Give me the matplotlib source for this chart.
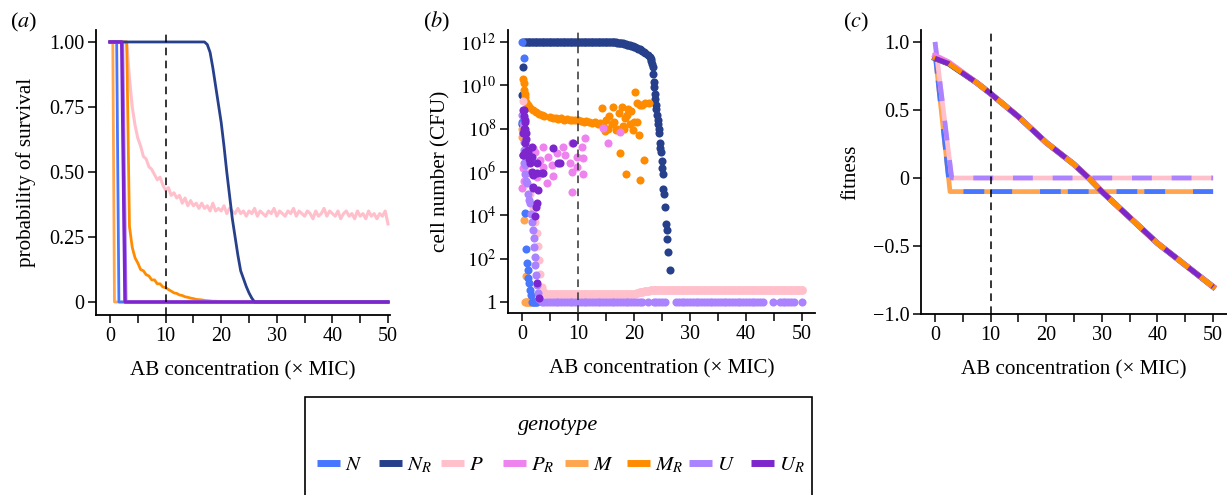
import numpy as np
import matplotlib
matplotlib.use("Agg")
import matplotlib.pyplot as plt
from matplotlib.lines import Line2D
from matplotlib.patches import Rectangle

plt.rcParams["font.family"] = ["Liberation Serif", "DejaVu Serif"]
plt.rcParams["mathtext.fontset"] = "stix"

####################### Génotypes et couleurs #########################

genotypes = ["N", "N_R", "P", "P_R", "M", "M_R", "U", "U_R"]
legend_labels = [r"$N$", r"$N_R$", r"$P$", r"$P_R$", r"$M$", r"$M_R$", r"$U$", r"$U_R$"]
colors = {"N": "#4876FF", "N_R": "#27408B", "P": "#FFC0CB", "P_R": "#EE82EE",
          "M": "#FFA54F", "M_R": "#FF8C00", "U": "#AB82FF", "U_R": "#7D26CD"}

####################### (a) probabilité de survie #########################

# grille de concentration (pas 0.5) pour les courbes bruitées
conc_a = np.arange(0, 50.01, 0.5)

surv_P = [1, 1, 1, 1, 1, 1, 1.0, 0.86, 0.75, 0.68,
          0.63, 0.60, 0.56, 0.55, 0.52, 0.51, 0.49, 0.47, 0.48, 0.45,
          0.43, 0.44, 0.41, 0.42, 0.40, 0.41, 0.38, 0.40, 0.37, 0.39,
          0.37, 0.38, 0.36, 0.38, 0.36, 0.37, 0.35, 0.38, 0.35, 0.36,
          0.35, 0.37, 0.34, 0.36, 0.35, 0.34, 0.36, 0.34, 0.35, 0.33,
          0.35, 0.34, 0.36, 0.33, 0.35, 0.34, 0.33, 0.35, 0.34, 0.36,
          0.33, 0.35, 0.34, 0.33, 0.35, 0.34, 0.36, 0.33, 0.35, 0.34,
          0.33, 0.35, 0.34, 0.32, 0.35, 0.33, 0.34, 0.36, 0.33, 0.35,
          0.34, 0.33, 0.35, 0.32, 0.34, 0.35, 0.33, 0.34, 0.32, 0.35,
          0.33, 0.34, 0.32, 0.35, 0.33, 0.34, 0.32, 0.34, 0.33, 0.35,
          0.30]

surv_MR = [1, 1, 1, 1, 1, 1, 1.0, 0.29, 0.21, 0.17,
           0.15, 0.125, 0.12, 0.105, 0.10, 0.085, 0.085, 0.07, 0.07, 0.058,
           0.055, 0.048, 0.042, 0.035, 0.033, 0.027, 0.025, 0.02, 0.018, 0.015,
           0.013, 0.01, 0.009, 0.008, 0.006, 0.005, 0.004, 0.003, 0.003, 0.002,
           0.002, 0.001, 0.001, 0.001, 0.0, 0.0, 0.0, 0.0, 0.0, 0.0,
           0.0]

# courbes nettes : points clés
surv_N_x = [0, 1.2, 1.6, 50]
surv_N_y = [1, 1, 0, 0]
surv_NR_x = [0, 16.5, 17, 17.5, 18, 18.5, 19, 19.5, 20, 20.5, 21, 21.5, 22,
             22.5, 23, 23.5, 24, 24.5, 25, 25.5, 26, 50]
surv_NR_y = [1, 1, 1.0, 0.99, 0.96, 0.9, 0.83, 0.76, 0.69, 0.6, 0.5, 0.41, 0.32,
             0.25, 0.18, 0.12, 0.09, 0.06, 0.035, 0.015, 0, 0]
surv_PR_x = [0, 2.2, 2.7, 50]
surv_PR_y = [1, 1, 0, 0]
surv_M_x = [0, 0.5, 0.8, 50]
surv_M_y = [1, 1, 0, 0]
surv_U_x = [0, 2.3, 2.9, 50]
surv_U_y = [1, 1, 0, 0]
surv_UR_x = [0, 2.1, 2.7, 50]
surv_UR_y = [1, 1, 0, 0]

####################### (b) nombre de cellules (log10 CFU) #########################

cells_NR_plateau_x = np.arange(0.25, 22.01, 0.25)
cells_NR_plateau = [12.0] * 64 + [11.99, 11.98, 11.98, 11.97, 11.96, 11.95, 11.94, 11.93,
                                  11.91, 11.9, 11.88, 11.87, 11.85, 11.83, 11.81, 11.78,
                                  11.75, 11.72, 11.69, 11.66, 11.63, 11.6, 11.55, 11.5]
cells_NR_x = [0.0, 0.0, 0.2, 22.5, 22.8, 23.0, 23.1, 23.2, 23.3, 23.4, 23.5, 23.6,
              23.7, 23.8, 23.9, 24.0, 24.1, 24.2, 24.3, 24.4, 24.5, 24.6, 24.7,
              24.8, 24.9, 25.0, 25.1, 25.2, 25.3, 25.5, 25.7, 25.8, 25.85, 26.1, 26.4]
cells_NR = [8.2, 9.55, 10.86, 11.4, 11.3, 11.2, 11.1, 11.0, 10.86, 10.5, 10.15, 9.9,
            9.6, 9.35, 9.1, 8.9, 8.65, 8.4, 8.2, 8.0, 7.8, 7.35, 7.1,
            6.9, 6.5, 6.2, 5.9, 5.2, 5.0, 4.4, 3.6, 3.3, 2.9, 2.3, 1.5]

cells_MR_x = [0.25, 0.3, 0.4, 0.5, 0.6, 0.8, 1.0, 1.25, 1.5, 2.0, 2.5, 3.0, 3.5,
              4.0, 5.0, 5.5, 6.0, 6.5, 7.0, 7.5, 8.0, 8.5, 9.0, 9.5, 10.0, 10.5,
              11.0, 11.5, 12.0, 12.5, 13.0, 13.5, 14.0, 14.2, 14.5, 14.8, 15.0,
              15.3, 15.5, 16.0, 16.3, 16.5, 16.8, 17.0, 17.3, 17.5, 17.8, 18.0,
              18.2, 18.3, 18.6, 18.7, 19.0, 19.3, 19.5, 19.8, 20.0, 20.2, 20.5,
              20.5, 20.8, 21.1, 21.1, 21.5, 21.7, 22.0, 22.6]
cells_MR = [10.3, 10.1, 9.8, 9.6, 9.45, 9.25, 9.1, 9.0, 8.93, 8.85, 8.75, 8.68, 8.63,
            8.6, 8.55, 8.5, 8.48, 8.45, 8.5, 8.42, 8.45, 8.4, 8.42, 8.38, 8.4, 8.35,
            8.32, 8.35, 8.3, 8.25, 8.3, 8.2, 8.25, 8.94, 8.1, 7.9, 8.4,
            8.0, 8.6, 8.2, 9.0, 8.3, 7.95, 8.0, 8.7, 6.86, 9.0, 8.1,
            8.0, 8.5, 5.91, 8.63, 8.9, 8.2, 8.8, 7.95, 8.3, 9.7, 9.2,
            8.3, 7.71, 9.09, 5.63, 9.1, 6.55, 9.2, 9.17]

cells_M_x = [0.0, 0.0, 0.4, 0.66, 0.6, 0.75, 0.9, 1.0, 1.2, 1.35, 1.5]
cells_M = [8.0, 7.6, 3.78, 1.2, 0.0, 0.0, 0.0, 0.0, 0.0, 0.0, 0.0]

cells_N_x = [0.0, 0.0, 0.4, 0.5, 0.7, 0.85, 1.0, 1.1, 1.3, 1.4, 1.55,
             1.7, 1.9, 2.1, 2.3, 2.5, 2.7]
cells_N = [12.0, 8.3, 11.27, 4.1, 2.45, 1.8, 1.48, 1.09, 0.86, 0.55, 0.32,
           0.0, 0.0, 0.0, 0.0, 0.0, 0.0]

cells_P_x = [0.1, 0.5, 1.0, 1.5, 2.0, 2.3, 2.6, 2.8, 3.1, 3.3, 3.5, 3.7]
cells_P = [9.27, 7.0, 6.0, 5.0, 4.3, 3.7, 3.17, 2.6, 1.94, 1.3, 0.7, 0.5]
cells_P_band_x = np.arange(4, 50.01, 0.5)
cells_P_band = [0.40, 0.39, 0.38, 0.38, 0.38, 0.38, 0.38, 0.38, 0.38, 0.38,
                0.38, 0.38, 0.38, 0.38, 0.38, 0.38, 0.38, 0.38, 0.38, 0.38,
                0.38, 0.38, 0.38, 0.38, 0.38, 0.38, 0.38, 0.38, 0.38, 0.38,
                0.38, 0.38, 0.39, 0.41, 0.44, 0.47, 0.50, 0.52, 0.54, 0.55,
                0.55, 0.55, 0.55, 0.55, 0.55, 0.55, 0.55, 0.55, 0.55, 0.55,
                0.55, 0.55, 0.55, 0.55, 0.55, 0.55, 0.55, 0.55, 0.55, 0.55,
                0.55, 0.55, 0.55, 0.55, 0.55, 0.55, 0.55, 0.55, 0.55, 0.55,
                0.55, 0.55, 0.55, 0.55, 0.55, 0.55, 0.55, 0.55, 0.55, 0.55,
                0.55, 0.55, 0.55, 0.55, 0.55, 0.55, 0.55, 0.55, 0.55, 0.55,
                0.55, 0.55, 0.55]

cells_PR_x = [3.8, 7.4, 8.9, 11.25, 10.7, 9.8, 10.8, 8.6, 8.9, 10.8, 5.5, 4.4, 8.9,
              0.0, 0.2, 3.2, 4.7, 6.2, 7.7, 2.0, 0.8, 14.5, 15.4, 17.5, 3.8, 5.3,
              1.4, 2.6, 9.8, 1.0, 2.3, 0.4]
cells_PR = [7.17, 7.17, 7.32, 7.55, 7.17, 6.71, 6.63, 6.4, 6.01, 5.91, 5.83, 5.48, 5.09,
            5.25, 6.17, 6.55, 6.71, 6.86, 6.78, 7.09, 6.71, 8.05, 7.35, 7.86, 6.25, 6.32,
            5.94, 5.78, 6.25, 6.5, 6.9, 5.6]

cells_U_x = [0.0, 0.1, 0.2, 0.3, 0.36, 0.4, 0.5, 0.6, 0.7, 0.84, 1.0, 1.2, 1.4,
             1.6, 1.8, 2.0, 2.1, 2.2, 2.3, 2.4, 2.5, 2.6, 2.9, 3.1]
cells_U = [8.63, 8.2, 7.8, 7.4, 7.0, 6.4, 6.3, 5.9, 5.6, 5.48, 5.0, 4.7, 4.55,
           4.05, 3.71, 3.32, 2.94, 2.55, 2.09, 1.71, 1.25, 0.78, 0.4, 0.15]
# points au plancher (1 CFU), avec les trous visibles
cells_U_floor_x = np.concatenate([np.arange(3.5, 21.51, 0.5), [22.5],
                                  np.arange(23.5, 25.51, 0.5), np.arange(27.5, 43.01, 0.5),
                                  [44.8], np.arange(46.0, 48.76, 0.5), [49.9]])

cells_UR_x = [0.25, 0.3, 0.36, 0.4, 0.45, 0.5, 0.55, 0.25, 0.8, 0.5, 1.7, 1.1, 0.8,
              0.25, 0.1, 1.7, 1.4, 2.6, 1.7, 2.0, 2.6, 3.5, 3.8, 2.0, 2.0, 2.0,
              2.9, 2.5, 2.4, 2.6, 3.1, 5.6, 6.5, 6.7, 9.1, 0.6, 0.7, 1.0, 1.2, 2.6]
cells_UR = [8.86, 8.6, 8.86, 8.0, 8.3, 8.4, 6.9, 7.78, 7.78, 7.32, 7.17, 6.86, 6.86,
            6.78, 6.78, 6.71, 6.4, 6.4, 6.01, 5.94, 5.94, 5.94, 5.94, 5.86, 5.32, 5.25,
            5.17, 4.4, 3.97, 0.89, 0.17, 7.09, 6.4, 6.43, 7.35, 8.0, 7.5, 7.0, 6.6, 4.55]

####################### (c) fitness #########################

fit_res_x = [0, 2.5, 5, 7.5, 10, 12.5, 15, 17.5, 20, 22.5, 25, 27.5, 30, 32.5,
             35, 37.5, 40, 42.5, 45, 47.5, 50]
fit_res = [0.88, 0.84, 0.77, 0.70, 0.62, 0.535, 0.45, 0.355, 0.26, 0.18, 0.10,
           0.005, -0.10, -0.195, -0.29, -0.385, -0.48, -0.56, -0.64, -0.72, -0.80]
fit_PR = [0.9, 0.85, 0.775, 0.70, 0.62, 0.535, 0.45, 0.355, 0.26, 0.18, 0.10,
          0.005, -0.10, -0.195, -0.29, -0.385, -0.48, -0.56, -0.64, -0.72, -0.80]
fit_NM_x = [0, 2.7, 50]
fit_NM = [0.92, -0.1, -0.1]
fit_PU_x = [0, 3.0, 50]
fit_PU = [1.0, 0.0, 0.0]

####################### Figure #########################

W, H = 1227, 495
fig = plt.figure(figsize=(W / 100, H / 100), dpi=100)

FS_LAB = 15.2
FS_TICK = 14.5


def px_axes(left, top, right, bottom):
    return fig.add_axes([left / W, 1 - bottom / H, (right - left) / W, (bottom - top) / H])


def style(ax, vcol="black"):
    for s in ["top", "right"]:
        ax.spines[s].set_visible(False)
    for s in ["left", "bottom"]:
        ax.spines[s].set_linewidth(1.3)
    ax.tick_params(direction="out", length=5.5, width=1.1, labelsize=FS_TICK, pad=3)
    ax.set_xticks(np.arange(0, 51, 5))
    ax.set_xticklabels(["0", "", "10", "", "20", "", "30", "", "40", "", "50"])
    ax.set_xlabel("AB concentration (× MIC)", fontsize=FS_LAB, labelpad=11)
    ax.axvline(10, color=vcol, lw=1.1, dashes=(5, 3.5), zorder=5)


lw_a = 2.0
ax1 = px_axes(96, 30, 390, 315)
ax1.plot(conc_a, surv_P, color=colors["P"], lw=2.2)
ax1.plot(conc_a[:51], surv_MR, color=colors["M_R"], lw=lw_a)
ax1.plot(surv_M_x, surv_M_y, color=colors["M"], lw=lw_a)
ax1.plot(surv_N_x, surv_N_y, color=colors["N"], lw=lw_a)
ax1.plot(surv_PR_x, surv_PR_y, color=colors["P_R"], lw=lw_a)
ax1.plot(surv_U_x, surv_U_y, color=colors["U"], lw=lw_a)
ax1.plot(surv_NR_x, surv_NR_y, color=colors["N_R"], lw=lw_a)
ax1.plot(surv_UR_x, surv_UR_y, color=colors["U_R"], lw=2.4)
ax1.set_xlim(-2.52, 50.36)
ax1.set_ylim(-0.05, 1.046)
ax1.set_yticks([0, 0.25, 0.5, 0.75, 1.0])
ax1.set_yticklabels(["0", "0.25", "0.50", "0.75", "1.00"])
ax1.set_ylabel("probability of survival", fontsize=FS_LAB, labelpad=9)
style(ax1)

ax2 = px_axes(508, 30, 815, 313.3)
sz = 34
ax2.scatter(cells_NR_plateau_x, 10.0 ** np.array(cells_NR_plateau), s=sz, color=colors["N_R"], lw=0)
ax2.scatter(cells_NR_x, 10.0 ** np.array(cells_NR), s=sz, color=colors["N_R"], lw=0)
ax2.scatter(cells_MR_x, 10.0 ** np.array(cells_MR), s=sz, color=colors["M_R"], lw=0)
ax2.scatter(cells_P_band_x, 10.0 ** np.array(cells_P_band), s=sz * 1.2, color=colors["P"], lw=0)
ax2.scatter(cells_M_x, 10.0 ** np.array(cells_M), s=sz, color=colors["M"], lw=0)
ax2.scatter(cells_P_x, 10.0 ** np.array(cells_P), s=sz, color=colors["P"], lw=0)
ax2.scatter(cells_PR_x, 10.0 ** np.array(cells_PR), s=sz, color=colors["P_R"], lw=0)
ax2.scatter(cells_N_x, 10.0 ** np.array(cells_N), s=sz, color=colors["N"], lw=0)
ax2.scatter(cells_U_x, 10.0 ** np.array(cells_U), s=sz, color=colors["U"], lw=0)
ax2.scatter(cells_U_floor_x, np.ones(len(cells_U_floor_x)), s=sz, color=colors["U"], lw=0)
ax2.scatter(cells_UR_x, 10.0 ** np.array(cells_UR), s=sz, color=colors["U_R"], lw=0)
ax2.set_yscale("log")
ax2.set_xlim(-2.5, 52.3)
ax2.set_ylim(10 ** -0.52, 10 ** 12.55)
ax2.set_yticks([10.0 ** k for k in range(0, 13, 2)])
ax2.set_yticklabels(["1"] + [r"$10^{%d}$" % k for k in range(2, 13, 2)])
ax2.minorticks_off()
ax2.set_ylabel("cell number (CFU)", fontsize=FS_LAB, labelpad=7)
style(ax2, vcol="#333333")

ax3 = px_axes(921, 30, 1227, 314)
lw_c = 3.4
ax3.plot(fit_NM_x, fit_NM, color=colors["M"], lw=lw_c, solid_capstyle="butt")
ax3.plot(fit_NM_x, fit_NM, color=colors["N"], lw=lw_c, dashes=(4.4, 1.5, 4.4, 5.9))
ax3.plot(fit_PU_x, fit_PU, color=colors["P"], lw=lw_c, solid_capstyle="butt")
ax3.plot(fit_PU_x, fit_PU, color=colors["U"], lw=lw_c, dashes=(4.2, 4.2))
ax3.plot(fit_res_x, fit_res, color=colors["N_R"], lw=4.2)
ax3.plot(fit_res_x, fit_PR, color=colors["P_R"], lw=4.0)
ax3.plot(fit_res_x, fit_res, color=colors["M_R"], lw=3.6)
ax3.plot(fit_res_x, fit_res, color=colors["U_R"], lw=3.6, dashes=(3.0, 3.0))
ax3.set_xlim(-2.52, 52.5)
ax3.set_ylim(-1.0, 1.088)
ax3.set_yticks([-1.0, -0.5, 0, 0.5, 1.0])
ax3.set_yticklabels(["\u22121.0", "\u22120.5", "0", "0.5", "1.0"])
ax3.set_ylabel("fitness", fontsize=FS_LAB, labelpad=9)
style(ax3)

# étiquettes des panneaux
for x_px, letter in [(10, "a"), (423, "b"), (843, "c")]:
    fig.text(x_px / W, 1 - 27 / H, r"($%s$)" % letter, fontsize=16, ha="left", va="baseline")

####################### Légende #########################

fig.add_artist(Rectangle((305 / W, 1 - 520 / H), 507 / W, 123 / H, transform=fig.transFigure,
                         fill=False, edgecolor="black", lw=1.2, clip_on=False))
fig.text(558 / W, 1 - 430 / H, "genotype", fontsize=16, style="italic", ha="center", va="baseline")
for i, g in enumerate(genotypes):
    x0 = 317 + 62 * i
    fig.add_artist(Line2D([x0 / W, (x0 + 23) / W], [1 - 463 / H, 1 - 463 / H],
                          transform=fig.transFigure, color=colors[g], lw=5, solid_capstyle="butt"))
    fig.text((x0 + 28) / W, 1 - 470 / H, legend_labels[i], fontsize=15, ha="left", va="baseline")

fig.savefig("out.png", dpi=100)
